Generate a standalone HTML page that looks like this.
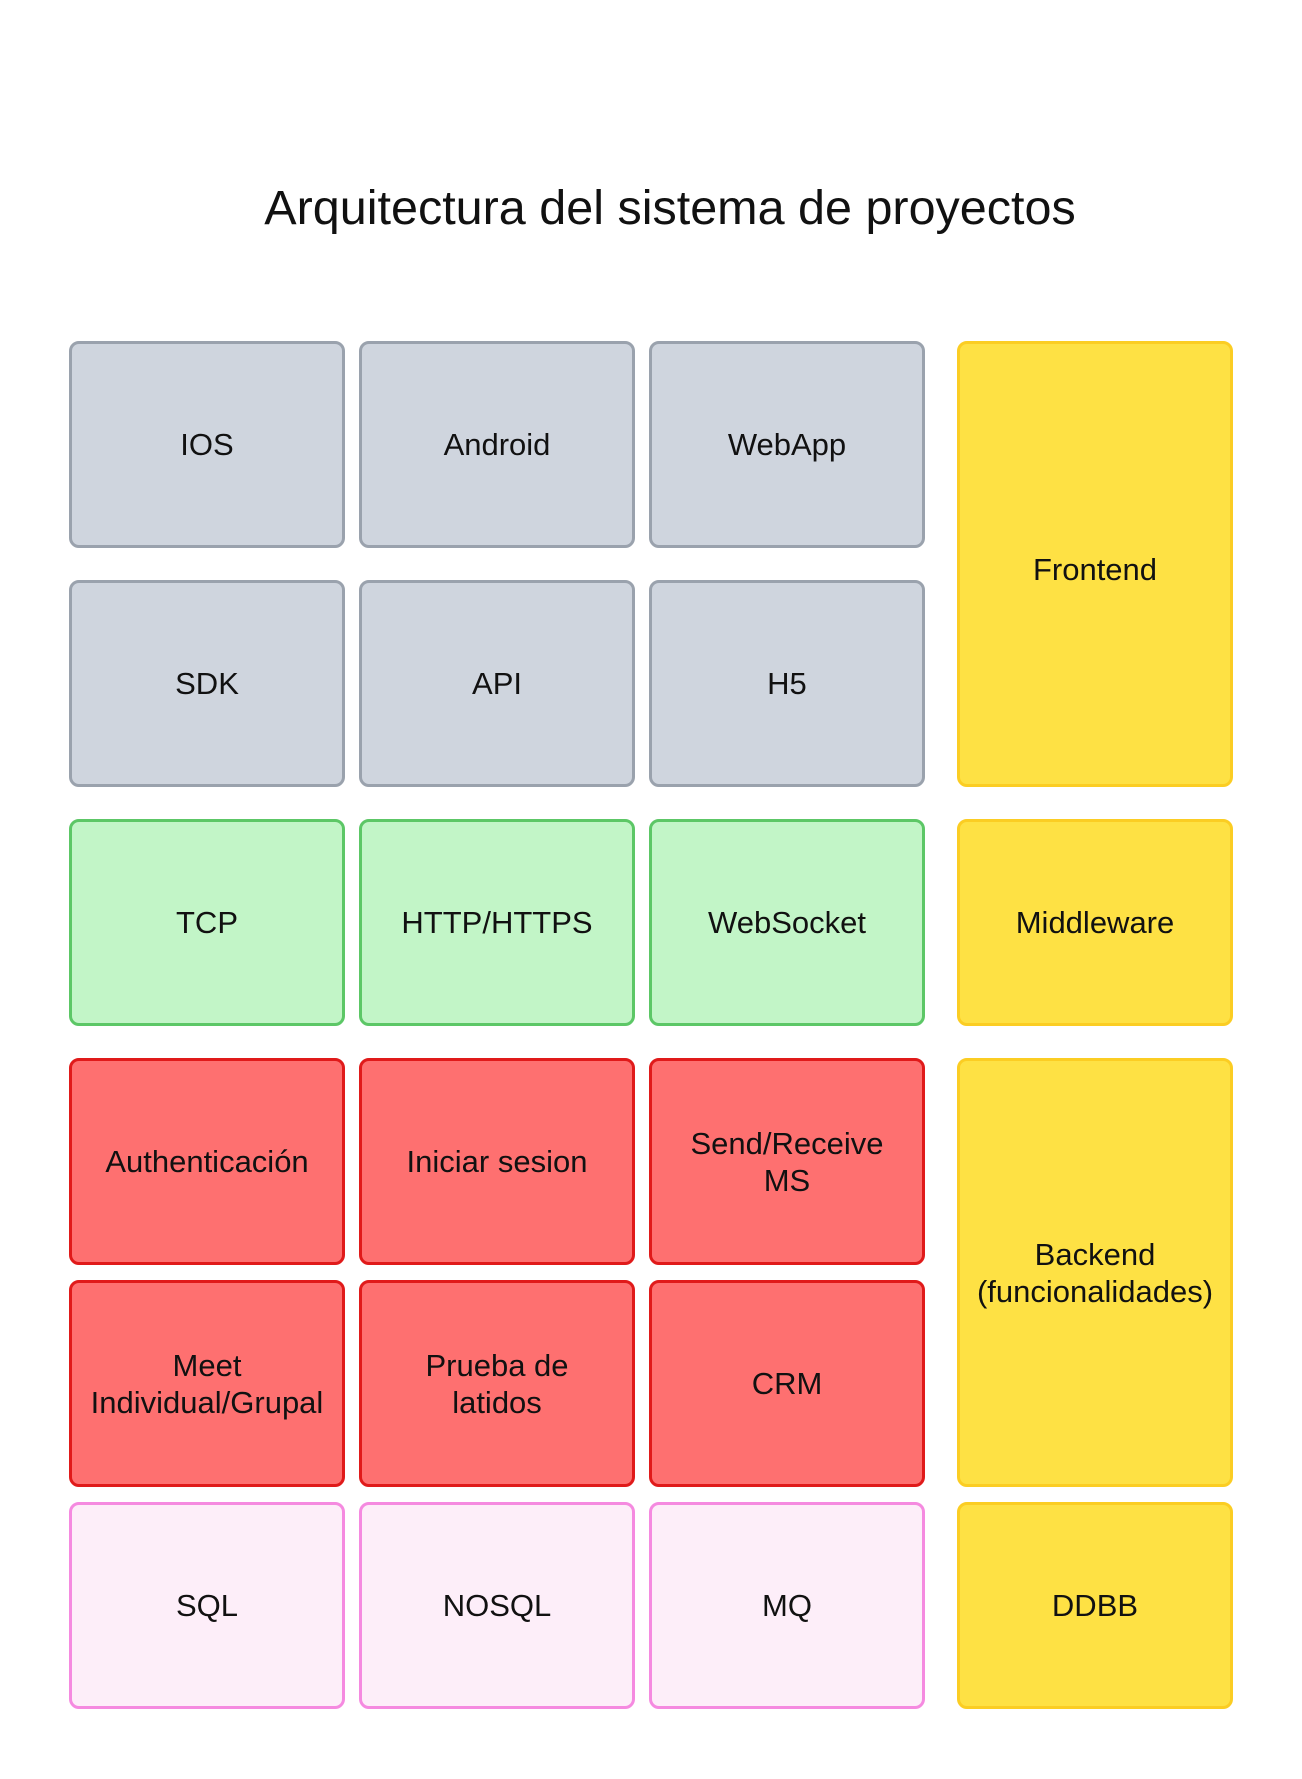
<!DOCTYPE html>
<html><head><meta charset="utf-8"><style>
body{margin:0;width:1302px;height:1779px;background:#fff;position:relative;font-family:"Liberation Sans",sans-serif;overflow:hidden}
.t{position:absolute;left:0;width:1340px;top:180px;text-align:center;font-size:48.5px;color:#111}
.b{position:absolute;box-sizing:border-box;border:3px solid;border-radius:10px;display:flex;align-items:center;justify-content:center;text-align:center;font-size:31px;line-height:37px;color:#111}
.g{background:#cfd5de;border-color:#9aa2ad}
.gr{background:#c2f5c7;border-color:#5cc766}
.r{background:#fe7070;border-color:#e01a1a}
.p{background:#fdeef9;border-color:#f58ae0}
.y{background:#fee144;border-color:#fbcd23}
</style></head><body>
<div class="t">Arquitectura del sistema de proyectos</div>

<div class="b g" style="left:69px;top:341px;width:276px;height:207px">IOS</div>
<div class="b g" style="left:359px;top:341px;width:276px;height:207px">Android</div>
<div class="b g" style="left:649px;top:341px;width:276px;height:207px">WebApp</div>
<div class="b g" style="left:69px;top:580px;width:276px;height:207px">SDK</div>
<div class="b g" style="left:359px;top:580px;width:276px;height:207px">API</div>
<div class="b g" style="left:649px;top:580px;width:276px;height:207px">H5</div>
<div class="b y" style="left:957px;top:341px;width:276px;height:446px;padding-top:10px">Frontend</div>

<div class="b gr" style="left:69px;top:819px;width:276px;height:207px">TCP</div>
<div class="b gr" style="left:359px;top:819px;width:276px;height:207px">HTTP/HTTPS</div>
<div class="b gr" style="left:649px;top:819px;width:276px;height:207px">WebSocket</div>
<div class="b y" style="left:957px;top:819px;width:276px;height:207px">Middleware</div>

<div class="b r" style="left:69px;top:1058px;width:276px;height:207px">Authenticación</div>
<div class="b r" style="left:359px;top:1058px;width:276px;height:207px">Iniciar sesion</div>
<div class="b r" style="left:649px;top:1058px;width:276px;height:207px">Send/Receive<br>MS</div>
<div class="b r" style="left:69px;top:1280px;width:276px;height:207px">Meet<br>Individual/Grupal</div>
<div class="b r" style="left:359px;top:1280px;width:276px;height:207px">Prueba de<br>latidos</div>
<div class="b r" style="left:649px;top:1280px;width:276px;height:207px">CRM</div>
<div class="b y" style="left:957px;top:1058px;width:276px;height:429px">Backend<br>(funcionalidades)</div>

<div class="b p" style="left:69px;top:1502px;width:276px;height:207px">SQL</div>
<div class="b p" style="left:359px;top:1502px;width:276px;height:207px">NOSQL</div>
<div class="b p" style="left:649px;top:1502px;width:276px;height:207px">MQ</div>
<div class="b y" style="left:957px;top:1502px;width:276px;height:207px">DDBB</div>
</body></html>
